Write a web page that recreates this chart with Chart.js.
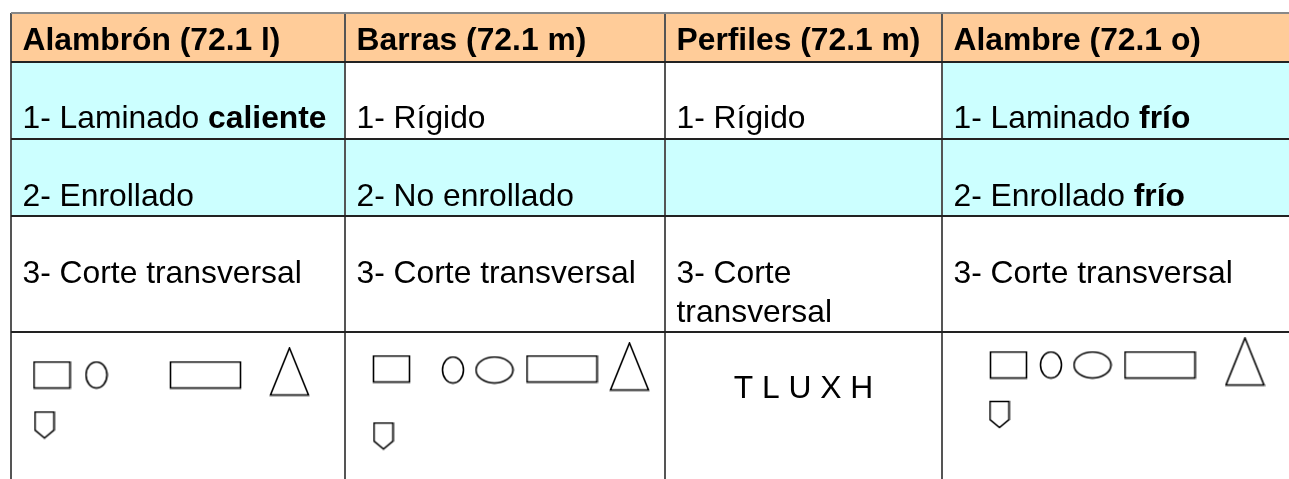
<!DOCTYPE html>
<html>
<head>
<meta charset="utf-8">
<script src="https://cdn.jsdelivr.net/npm/chart.js@4.4.0/dist/chart.umd.min.js"></script>
<style>
  body { margin: 0; background: #fff; }
  #tabla { display: block; }
</style>
</head>
<body>
<canvas id="tabla" width="1289" height="479"></canvas>
<script>
// contenido de la tabla
const headers = ['Alambrón (72.1 l)', 'Barras (72.1 m)', 'Perfiles (72.1 m)', 'Alambre (72.1 o)'];
const step1 = ['1- Laminado **caliente**', '1- Rígido', '1- Rígido', '1- Laminado **frío**'];
const step2 = ['2- Enrollado', '2- No enrollado', '', '2- Enrollado **frío**'];
const step3 = ['3- Corte transversal', '3- Corte transversal', '3- Corte transversal', '3- Corte transversal'];
const profileLetters = ['', '', 'T L U X H', ''];
const shapesAlambron = ['rect', 'oval', 'wideRect', 'triangle', 'shield'];
const shapesBarras = ['rect', 'oval', 'wideOval', 'wideRect', 'triangle', 'shield'];
const shapesPerfiles = [];
const shapesAlambre = ['rect', 'oval', 'wideOval', 'wideRect', 'triangle', 'shield'];

// layout (unidades de la escala = pixeles de la hoja)
const colEdges = [11, 345, 665, 942, 1289];
const rowEdges = [13, 62, 139, 216, 332, 479];
const rowBaseline = [37, 66, 67, 67, 66];
const PAD = 11.5;
const LINE_H = 39;
const FONT = '31.8px "Liberation Sans", Arial, sans-serif';

const PEACH = '#ffcc99', CYAN = '#ccffff', WHITE = '#ffffff';
const cellShade = [
  [PEACH, PEACH, PEACH, PEACH],
  [CYAN, WHITE, WHITE, CYAN],
  [CYAN, CYAN, CYAN, CYAN],
  [WHITE, WHITE, WHITE, WHITE],
  [WHITE, WHITE, WHITE, WHITE]
];

const shapeSpots = [
  [[41, 43], [85.5, 43], [194.5, 43], [278.5, 39.5], [33.5, 93]],
  [[46.5, 37], [108, 38], [149.5, 38], [217, 37], [284.5, 34.5], [38.5, 104]],
  [],
  [[66.5, 33], [109, 33], [150.5, 33], [218, 33], [303, 29.5], [57.5, 82.5]]
];
const shapeSize = {
  rect: [36, 26], oval: [21, 26], wideOval: [37, 26],
  wideRect: [70, 26], triangle: [38, 47], shield: [19, 26]
};

// dibuja cada figura en un canvas pequeno para usarlo como pointStyle
function makeShape(kind) {
  const [w, h] = shapeSize[kind];
  const c = document.createElement('canvas');
  c.width = w + 3; c.height = h + 3;
  const g = c.getContext('2d');
  g.strokeStyle = '#000';
  g.lineWidth = 1.6;
  g.translate(1.5, 1.5);
  g.beginPath();
  if (kind == 'rect' || kind == 'wideRect') {
    g.rect(0, 0, w, h);
  } else if (kind == 'oval' || kind == 'wideOval') {
    g.ellipse(w / 2, h / 2, w / 2, h / 2, 0, 0, Math.PI * 2);
  } else if (kind == 'triangle') {
    g.moveTo(w / 2, 0); g.lineTo(w, h); g.lineTo(0, h); g.closePath();
  } else if (kind == 'shield') {
    g.moveTo(0, 0); g.lineTo(w, 0); g.lineTo(w, h * 0.7); g.lineTo(w / 2, h); g.lineTo(0, h * 0.7); g.closePath();
  }
  g.stroke();
  return c;
}
const shapeImg = {};
Object.keys(shapeSize).forEach(k => shapeImg[k] = makeShape(k));

const columnShapes = [shapesAlambron, shapesBarras, shapesPerfiles, shapesAlambre];
const datasets = columnShapes.map((kinds, c) => ({
  data: kinds.map((k, i) => ({ x: colEdges[c] + shapeSpots[c][i][0], y: rowEdges[4] + shapeSpots[c][i][1] })),
  pointStyle: kinds.map(k => shapeImg[k]),
  pointRadius: 3
}));

function plain(t) { return t.split('**').join(''); }

function drawRich(ctx, text, x, y) {
  text.split('**').forEach((p, i) => {
    ctx.font = (i % 2 ? 'bold ' : '') + FONT;
    ctx.fillText(p, x, y);
    x += ctx.measureText(p).width;
  });
}

function wrap(ctx, text, maxW) {
  ctx.font = FONT;
  if (ctx.measureText(plain(text)).width <= maxW) return [text];
  const words = text.split(' ');
  const lines = [];
  let cur = '';
  words.forEach(w => {
    const test = cur ? cur + ' ' + w : w;
    if (cur && ctx.measureText(plain(test)).width > maxW) { lines.push(cur); cur = w; }
    else cur = test;
  });
  if (cur) lines.push(cur);
  return lines;
}

const tablePlugin = {
  id: 'tabla',
  beforeDraw(chart) {
    const ctx = chart.ctx;
    const xs = chart.scales.x, ys = chart.scales.y;
    ctx.save();
    for (let r = 0; r < rowEdges.length - 1; r++) {
      for (let c = 0; c < colEdges.length - 1; c++) {
        const x0 = xs.getPixelForValue(colEdges[c]), x1 = xs.getPixelForValue(colEdges[c + 1]);
        const y0 = ys.getPixelForValue(rowEdges[r]), y1 = ys.getPixelForValue(rowEdges[r + 1]);
        ctx.fillStyle = cellShade[r][c];
        ctx.fillRect(x0, y0, x1 - x0, y1 - y0);
      }
    }
    ctx.restore();
  },
  afterDraw(chart) {
    const ctx = chart.ctx;
    const xs = chart.scales.x, ys = chart.scales.y;
    const rows = [headers.map(h => '**' + h), step1, step2, step3];
    ctx.save();
    ctx.fillStyle = '#000';
    ctx.textBaseline = 'alphabetic';
    rows.forEach((row, r) => {
      row.forEach((txt, c) => {
        if (!txt) return;
        const x0 = xs.getPixelForValue(colEdges[c]);
        const x1 = xs.getPixelForValue(colEdges[c + 1]);
        const y = ys.getPixelForValue(rowEdges[r] + rowBaseline[r]);
        const lines = wrap(ctx, txt, x1 - x0 - 2 * PAD);
        lines.forEach((ln, i) => drawRich(ctx, ln, x0 + PAD, y + i * LINE_H));
      });
    });
    ctx.font = FONT;
    ctx.textAlign = 'center';
    profileLetters.forEach((txt, c) => {
      if (!txt) return;
      const xm = (xs.getPixelForValue(colEdges[c]) + xs.getPixelForValue(colEdges[c + 1])) / 2;
      ctx.fillText(txt, xm, ys.getPixelForValue(rowEdges[4] + rowBaseline[4]));
    });
    ctx.restore();
  }
};

new Chart(document.getElementById('tabla'), {
  type: 'scatter',
  data: { datasets: datasets },
  options: {
    responsive: false,
    animation: false,
    layout: { autoPadding: false, padding: { left: colEdges[0], top: rowEdges[0], right: 0, bottom: 0 } },
    plugins: { legend: { display: false }, tooltip: { enabled: false } },
    scales: {
      x: {
        type: 'linear',
        min: colEdges[0], max: colEdges[colEdges.length - 1],
        afterBuildTicks: s => { s.ticks = colEdges.slice(0, -1).map(v => ({ value: v })); },
        ticks: { display: false },
        border: { display: false },
        grid: { color: '#555', lineWidth: 2, drawTicks: false }
      },
      y: {
        type: 'linear',
        reverse: true,
        min: rowEdges[0], max: rowEdges[rowEdges.length - 1],
        afterBuildTicks: s => { s.ticks = rowEdges.slice(0, -1).map(v => ({ value: v })); },
        ticks: { display: false },
        border: { display: false },
        grid: {
          color: ctx => ctx.tick && ctx.tick.value == rowEdges[0] ? '#888' : '#222',
          lineWidth: 2, drawTicks: false
        }
      }
    }
  },
  plugins: [tablePlugin]
});
</script>
</body>
</html>
